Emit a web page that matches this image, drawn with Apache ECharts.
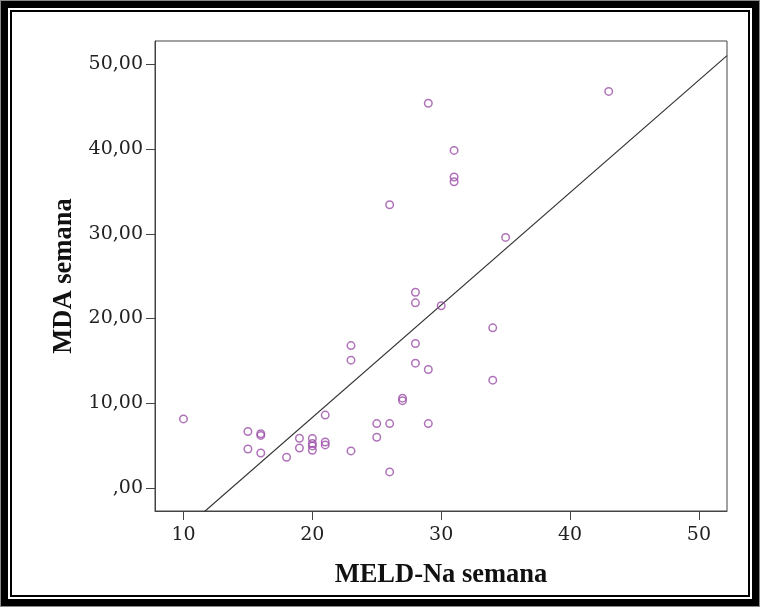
<!DOCTYPE html>
<html>
<head>
<meta charset="utf-8">
<script src="https://cdn.jsdelivr.net/npm/echarts@6/dist/echarts.min.js"></script>
<style>html,body{margin:0;padding:0;background:#fff;}#chart{width:760px;height:607px;}</style>
</head>
<body>
<div id="chart"></div>
<script>
// MELD-Na semana (x) and MDA semana (y)
const meldNa = [10, 15, 15, 16, 16, 16, 18, 19, 19, 20, 20, 20, 20, 21, 21, 21, 23, 23, 23, 25, 25, 26, 26, 26, 27, 27, 28, 28, 28, 28, 29, 29, 29, 30, 31, 31, 31, 34, 34, 35, 43];
const mda    = [8.15, 6.66, 4.6, 6.4, 6.2, 4.13, 3.63, 5.87, 4.72, 5.83, 5.24, 4.96, 4.45, 8.6, 5.43, 5.08, 16.8, 15.08, 4.37, 7.6, 5.99, 33.42, 7.6, 1.89, 10.6, 10.3, 23.1, 21.85, 17.05, 14.73, 45.4, 13.98, 7.6, 21.5, 39.84, 36.7, 36.14, 18.9, 12.72, 29.57, 46.8];

// Fitted regression line (slope, intercept)
const fitSlope = 1.327;
const fitIntercept = -18.22;

// Axis ranges and ticks
const xRange = [7.79, 52.18];
const yRange = [-2.72, 52.75];
const xTickValues = [10, 20, 30, 40, 50];
const xTickLabels = ['10', '20', '30', '40', '50'];
const yTickValues = [0, 10, 20, 30, 40, 50];
const yTickLabels = [',00', '10,00', '20,00', '30,00', '40,00', '50,00'];

const points = meldNa.map((x, i) => [x, mda[i]]);
const fitData = xRange.map(x => [x, fitSlope * x + fitIntercept]);

const tickFont = { fontFamily: 'DejaVu Serif', fontSize: 19, color: '#222' };
const axisColor = '#444';

const chart = echarts.init(document.getElementById('chart'), null, { renderer: 'canvas' });
chart.setOption({
  backgroundColor: '#fff',
  animation: false,
  graphic: [
    { type: 'rect', shape: { x: 0, y: 0, width: 760, height: 607 }, style: { fill: '#8a8a8a' }, z: -10 },
    { type: 'rect', shape: { x: 1, y: 1, width: 758, height: 605 }, style: { fill: '#000' }, z: -9 },
    { type: 'rect', shape: { x: 8, y: 8, width: 744, height: 591 }, style: { fill: '#fff' }, z: -8 },
    { type: 'rect', shape: { x: 10, y: 10, width: 740, height: 587 }, style: { fill: '#000' }, z: -7 },
    { type: 'rect', shape: { x: 12, y: 12, width: 736, height: 583 }, style: { fill: '#fff' }, z: -6 }
  ],
  grid: { left: 155, right: 33, top: 41, bottom: 96, show: true, borderColor: axisColor, borderWidth: 1, backgroundColor: 'transparent' },
  xAxis: {
    type: 'value', min: xRange[0], max: xRange[1],
    name: 'MELD-Na semana', nameLocation: 'middle', nameGap: 51,
    nameTextStyle: { fontFamily: 'Liberation Serif', fontWeight: 'bold', fontSize: 26.5, color: '#111' },
    axisLine: { show: true, onZero: false, lineStyle: { color: axisColor, width: 1 } },
    axisTick: { show: true, length: 9, customValues: xTickValues, lineStyle: { color: axisColor } },
    axisLabel: { margin: 15, customValues: xTickValues, ...tickFont,
      formatter: v => xTickLabels[xTickValues.indexOf(v)] ?? '' },
    splitLine: { show: false }
  },
  yAxis: {
    type: 'value', min: yRange[0], max: yRange[1],
    name: 'MDA semana', nameLocation: 'middle', nameGap: 70, nameRotate: 90,
    nameTextStyle: { fontFamily: 'Liberation Serif', fontWeight: 'bold', fontSize: 26.5, color: '#111' },
    axisLine: { show: true, onZero: false, lineStyle: { color: axisColor, width: 1 } },
    axisTick: { show: true, length: 9, customValues: yTickValues, lineStyle: { color: axisColor } },
    axisLabel: { margin: 12, customValues: yTickValues, ...tickFont,
      formatter: v => yTickLabels[yTickValues.indexOf(v)] ?? '' },
    splitLine: { show: false }
  },
  series: [
    {
      type: 'line', data: fitData, symbol: 'none', clip: true, silent: true,
      lineStyle: { color: '#333', width: 1.2 }, z: 1
    },
    {
      type: 'scatter', data: points, symbol: 'circle', symbolSize: 7.5,
      itemStyle: { color: 'rgba(255,255,255,0)', borderColor: '#9b4fa8', borderWidth: 1.5 },
      z: 2
    }
  ]
});
</script>
</body>
</html>
